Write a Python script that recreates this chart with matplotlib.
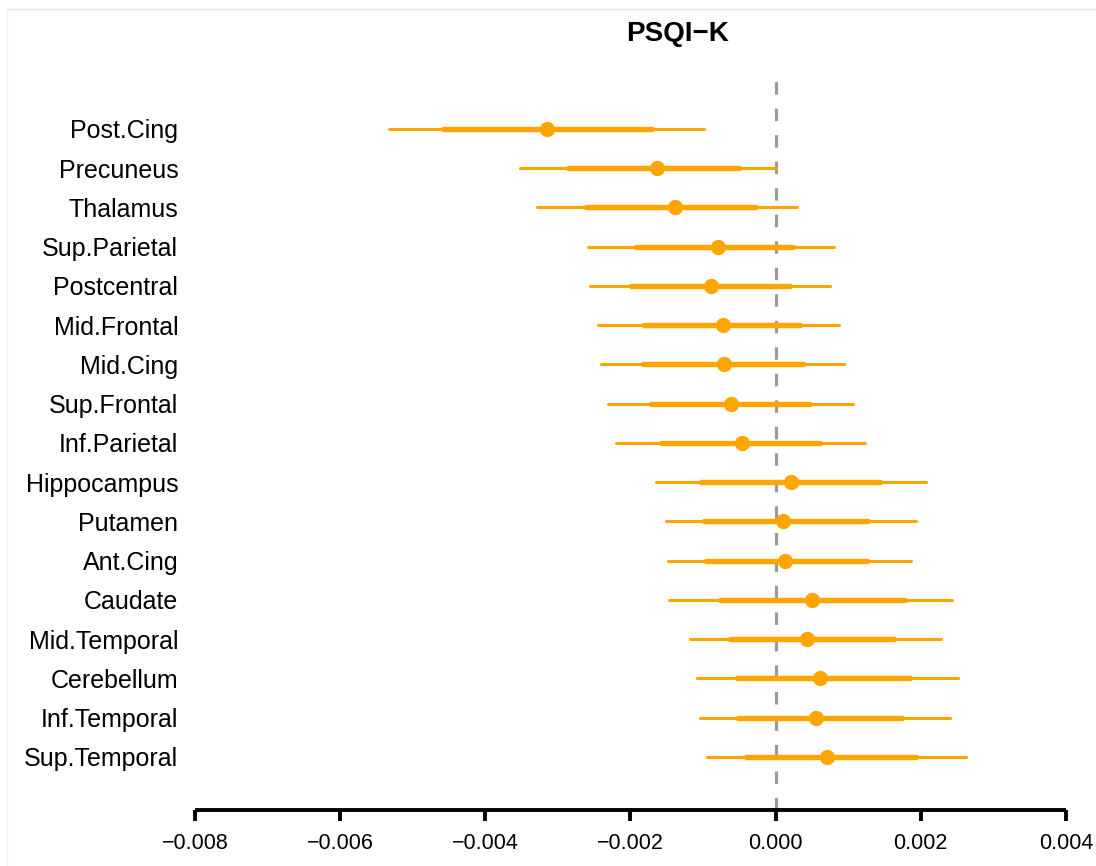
import numpy as np
import matplotlib
matplotlib.use("Agg")
import matplotlib.pyplot as plt
from matplotlib.lines import Line2D

# regions, top to bottom
regions = ["Post.Cing", "Precuneus", "Thalamus", "Sup.Parietal", "Postcentral",
           "Mid.Frontal", "Mid.Cing", "Sup.Frontal", "Inf.Parietal", "Hippocampus",
           "Putamen", "Ant.Cing", "Caudate", "Mid.Temporal", "Cerebellum",
           "Inf.Temporal", "Sup.Temporal"]

# point estimates
estimate = [-3.146e-3, -1.640e-3, -1.387e-3, -0.799e-3, -0.891e-3,
            -0.726e-3, -0.712e-3, -0.611e-3, -0.468e-3, 0.207e-3,
            0.101e-3, 0.124e-3, 0.496e-3, 0.427e-3, 0.606e-3,
            0.551e-3, 0.712e-3]

# inner (thick) interval
inner_lo = [-4.584e-3, -2.857e-3, -2.609e-3, -1.920e-3, -1.989e-3,
            -1.810e-3, -1.823e-3, -1.713e-3, -1.584e-3, -1.033e-3,
            -0.988e-3, -0.955e-3, -0.767e-3, -0.634e-3, -0.528e-3,
            -0.514e-3, -0.404e-3]
inner_hi = [-1.708e-3, -0.505e-3, -0.266e-3, 0.239e-3, 0.197e-3,
            0.335e-3, 0.372e-3, 0.473e-3, 0.611e-3, 1.433e-3,
            1.277e-3, 1.263e-3, 1.782e-3, 1.630e-3, 1.851e-3,
            1.746e-3, 1.939e-3]

# outer (thin) interval
outer_lo = [-5.328e-3, -3.527e-3, -3.284e-3, -2.586e-3, -2.553e-3,
            -2.452e-3, -2.411e-3, -2.310e-3, -2.195e-3, -1.653e-3,
            -1.516e-3, -1.484e-3, -1.470e-3, -1.181e-3, -1.088e-3,
            -1.043e-3, -0.941e-3]
outer_hi = [-0.988e-3, 0.009e-3, 0.289e-3, 0.799e-3, 0.744e-3,
            0.872e-3, 0.941e-3, 1.061e-3, 1.235e-3, 2.076e-3,
            1.929e-3, 1.860e-3, 2.429e-3, 2.283e-3, 2.517e-3,
            2.402e-3, 2.622e-3]

xticks = [-0.008, -0.006, -0.004, -0.002, 0.000, 0.002, 0.004]
title = "PSQI\u2212K"

plt.rcParams["font.family"] = ["Liberation Sans", "DejaVu Sans"]
col = "#FFA500"

fig = plt.figure(figsize=(10.96, 8.66), dpi=100)
ax = fig.add_axes([0.1779, 0.0641, 0.7947, 0.8528])

# zero reference line
ax.axvline(0, color="#9a9a9a", lw=2.3, linestyle=(0, (3.9, 4.4)), zorder=1)

ypos = np.arange(len(regions))
for y, est, ilo, ihi, olo, ohi in zip(ypos, estimate, inner_lo, inner_hi, outer_lo, outer_hi):
  ax.plot([olo, ohi], [y, y], color=col, lw=2.2, solid_capstyle="round", zorder=2)
  ax.plot([ilo, ihi], [y, y], color=col, lw=3.9, solid_capstyle="round", zorder=3)
  ax.plot(est, y, "o", color=col, ms=11, mec="none", zorder=4)

ax.set_xlim(-0.008, 0.004)
ax.set_ylim(17.363, -1.452)
ax.set_xticks(xticks)
ax.set_xticklabels([f"{t:.3f}".replace("-", "\u2212") for t in xticks], fontsize=15.5)
ax.set_yticks(ypos)
ax.set_yticklabels(regions, fontsize=18)

for s in ["top", "right", "left"]:
  ax.spines[s].set_visible(False)
ax.spines["bottom"].set_linewidth(2.8)
ax.spines["bottom"].set_capstyle("butt")
ax.tick_params(axis="x", direction="out", length=8, width=2.8, pad=8)
ax.tick_params(axis="y", length=0, pad=12)

fig.text(677 / 1096, 1 - 34 / 866, title, ha="center", va="center",
         fontsize=20, fontweight="bold")

# faint frame lines at top and left edge
fig.add_artist(Line2D([7 / 1096, 1], [1 - 9 / 866, 1 - 9 / 866], color="#e2e2e2", lw=1))
fig.add_artist(Line2D([7 / 1096, 7 / 1096], [0, 1 - 9 / 866], color="#f2f2f2", lw=1))

fig.savefig("out.png", dpi=100)
